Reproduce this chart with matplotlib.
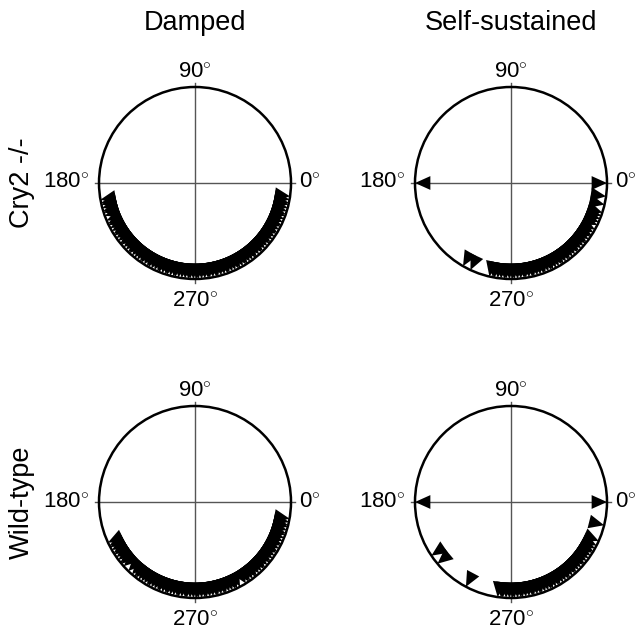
import matplotlib.pyplot as plt
from matplotlib.patches import Polygon, Circle
import numpy as np

plt.rcParams['font.family'] = ['Liberation Sans', 'DejaVu Sans']
plt.rcParams['mathtext.fontset'] = 'custom'
plt.rcParams['mathtext.rm'] = 'Liberation Sans'

# Peak phases (degrees) for each genotype / oscillation type
cry2_damped = [190, 192, 193, 195, 197, 198, 200, 203, 205, 206, 208, 210, 212,
               213, 215, 217, 219, 220, 222, 224, 226, 227, 229, 231, 233, 235,
               236, 238, 240, 241, 243, 245, 247, 248, 250, 252, 253, 255, 257,
               258, 260, 262, 264, 266, 267, 269, 271, 272, 274, 276, 278, 279,
               281, 283, 284, 286, 288, 290, 291, 293, 295, 297, 298, 300, 302,
               303, 305, 307, 309, 310, 312, 314, 315, 317, 319, 321, 322, 324,
               326, 328, 329, 331, 333, 334, 336, 338, 340, 341, 343, 345, 347,
               348, 350, 352]
cry2_self = [0, 180, 352, 347, 342, 340, 338, 336, 334, 331, 329, 327, 326, 324,
             322, 321, 319, 317, 315, 314, 312, 310, 308, 307, 305, 303, 302,
             300, 298, 296, 295, 293, 291, 290, 288, 286, 284, 283, 281, 279,
             278, 276, 274, 272, 271, 269, 267, 266, 264, 262, 260, 259, 257,
             245, 240]
wt_damped = [205, 207, 208, 210, 212, 213, 215, 217, 219, 220, 222, 226, 229,
             231, 232, 234, 236, 238, 240, 241, 243, 245, 247, 248, 250, 252,
             253, 255, 257, 259, 260, 262, 264, 265, 267, 269, 271, 272, 274,
             276, 277, 279, 281, 283, 284, 286, 288, 289, 291, 293, 295, 296,
             298, 302, 304, 305, 307, 309, 310, 312, 314, 316, 317, 319, 321,
             322, 324, 326, 328, 329, 331, 333, 334, 336, 338, 340, 341, 343,
             345, 346, 348, 350]
wt_self = [0, 180, 346, 336, 333, 331, 329, 328, 326, 324, 322, 320, 319, 317,
           315, 313, 312, 310, 308, 307, 305, 303, 301, 300, 298, 296, 295, 293,
           291, 289, 288, 286, 284, 283, 281, 279, 277, 276, 274, 272, 271, 269,
           267, 265, 264, 262, 242, 220, 214]

col_titles = ['Damped', 'Self-sustained']
row_titles = ['Cry2 -/-', 'Wild-type']
panels = [[cry2_damped, cry2_self], [wt_damped, wt_self]]

W, H = 637, 634
fig = plt.figure(figsize=(W / 100, H / 100), dpi=100)

R = 96          # circle radius in pixels
LIM = 1.45
centers_x = [195, 511]
centers_y = [183, 502]

tri_len = 0.16
tri_half = 0.072


def compass(ax, phases):
    ax.set_xlim(-LIM, LIM)
    ax.set_ylim(-LIM, LIM)
    ax.set_aspect('equal')
    ax.axis('off')
    ax.plot([-1.04, 1.04], [0, 0], color='#555555', lw=1.0, zorder=1)
    ax.plot([0, 0], [-1.04, 1.04], color='#555555', lw=1.0, zorder=1)
    for deg in phases:
        t = np.deg2rad(deg)
        u = np.array([np.cos(t), np.sin(t)])
        n = np.array([-np.sin(t), np.cos(t)])
        base = u * (1 - tri_len)
        pts = [u, base + n * tri_half, base - n * tri_half]
        ax.add_patch(Polygon(pts, closed=True, facecolor='black',
                             edgecolor='none', zorder=2))
    ax.add_patch(Circle((0, 0), 1, fill=False, edgecolor='black', lw=1.8,
                        zorder=3))
    fs = 16
    ax.text(0, 1.04, r'90$^{\circ}$', ha='center', va='bottom', fontsize=fs,
            clip_on=False)
    ax.text(0, -1.13, r'270$^{\circ}$', ha='center', va='top', fontsize=fs,
            clip_on=False)
    ax.text(-1.1, 0, r'180$^{\circ}$', ha='right', va='center', fontsize=fs,
            clip_on=False)
    ax.text(1.08, 0, r'0$^{\circ}$', ha='left', va='center', fontsize=fs,
            clip_on=False)


size = 2 * LIM * R
for i in range(2):
    for j in range(2):
        cx, cy = centers_x[j], centers_y[i]
        ax = fig.add_axes([(cx - size / 2) / W, (H - cy - size / 2) / H,
                           size / W, size / H])
        compass(ax, panels[i][j])

for j, t in enumerate(col_titles):
    fig.text(centers_x[j] / W, 1 - 23 / H, t, ha='center', va='center',
             fontsize=19.5)
for i, t in enumerate(row_titles):
    fig.text(22 / W, 1 - centers_y[i] / H, t, ha='center', va='center',
             rotation=90, fontsize=19.5)

fig.savefig('out.png', dpi=100, facecolor='white')
